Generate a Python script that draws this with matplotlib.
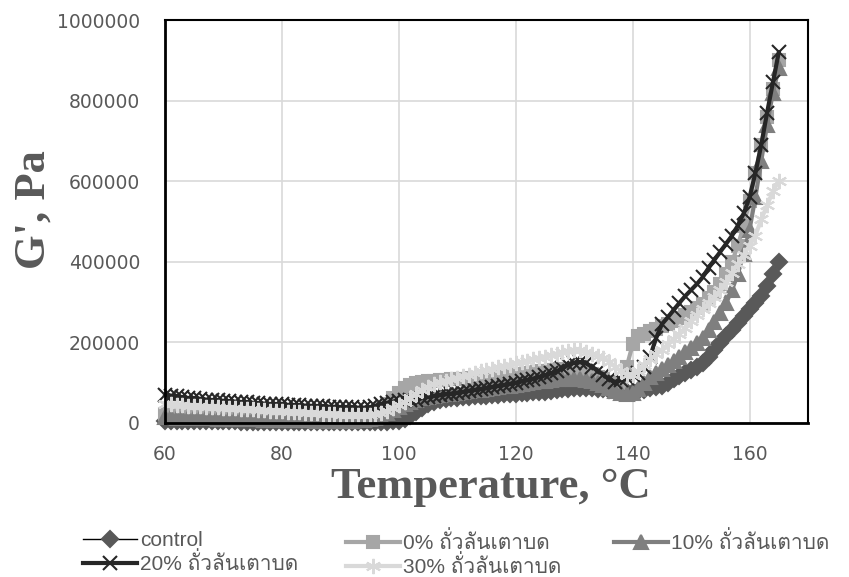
import matplotlib
matplotlib.use("Agg")
import matplotlib.pyplot as plt
from matplotlib import font_manager
from matplotlib.ticker import MultipleLocator, FuncFormatter

# find a font with Thai glyphs for the legend labels
thai_font = None
try:
    from fontTools.ttLib import TTFont
    for f in font_manager.fontManager.ttflist:
        try:
            tt = TTFont(f.fname, fontNumber=0, lazy=True)
            if 0x0E16 in tt.getBestCmap():
                thai_font = f.name
                break
        except Exception:
            pass
except Exception:
    pass

temperature = [
    60, 61, 62, 63, 64, 65, 66, 67, 68, 69,
    70, 71, 72, 73, 74, 75, 76, 77, 78, 79,
    80, 81, 82, 83, 84, 85, 86, 87, 88, 89,
    90, 91, 92, 93, 94, 95, 96, 97, 98, 99,
    100, 101, 102, 103, 104, 105, 106, 107, 108, 109,
    110, 111, 112, 113, 114, 115, 116, 117, 118, 119,
    120, 121, 122, 123, 124, 125, 126, 127, 128, 129,
    130, 131, 132, 133, 134, 135, 136, 137, 138, 139,
    140, 141, 142, 143, 144, 145, 146, 147, 148, 149,
    150, 151, 152, 153, 154, 155, 156, 157, 158, 159,
    160, 161, 162, 163, 164, 165,
]

g_control = [
    6000, 6000, 5500, 5500, 5000, 5000, 5000, 4500, 4500, 4500,
    4000, 4000, 4000, 3500, 3500, 3500, 3000, 3000, 3000, 3000,
    2500, 2500, 2500, 2500, 2000, 2000, 2000, 2000, 2000, 2000,
    2000, 2000, 2000, 2000, 2000, 2000, 2000, 2500, 3000, 4000,
    6000, 10000, 18000, 28000, 38000, 46000, 52000, 56000, 59000, 61000,
    63000, 64000, 65000, 66000, 67000, 68000, 69000, 70000, 71000, 72000,
    73000, 74000, 75000, 76000, 77000, 78000, 80000, 82000, 84000, 85000,
    86000, 86000, 86000, 86000, 85000, 84000, 82000, 80000, 78000, 78000,
    78000, 80000, 83000, 86000, 89000, 93000, 100000, 108000, 116000, 124000,
    132000, 140000, 150000, 165000, 182000, 198000, 215000, 232000, 248000, 265000,
    282000, 298000, 315000, 340000, 370000, 400000,
]

g_0 = [
    22000, 21000, 21000, 20000, 20000, 19000, 19000, 18000, 18000, 17000,
    17000, 16000, 16000, 15000, 15000, 14000, 14000, 13000, 13000, 12000,
    12000, 12000, 11000, 11000, 11000, 10000, 10000, 10000, 10000, 10000,
    10000, 10000, 11000, 12000, 14000, 18000, 25000, 35000, 48000, 62000,
    75000, 86000, 94000, 99000, 102000, 104000, 105000, 106000, 107000, 108000,
    109000, 110000, 111000, 112000, 113000, 114000, 115000, 116000, 117000, 118000,
    120000, 122000, 124000, 126000, 128000, 130000, 132000, 134000, 135000, 135000,
    134000, 132000, 128000, 122000, 115000, 108000, 102000, 98000, 100000, 140000,
    195000, 215000, 222000, 228000, 234000, 240000, 246000, 253000, 260000, 268000,
    276000, 285000, 296000, 310000, 325000, 345000, 370000, 400000, 440000, 490000,
    550000, 620000, 690000, 760000, 830000, 900000,
]

g_10 = [
    14000, 14000, 13500, 13000, 13000, 12500, 12000, 12000, 11500, 11000,
    11000, 10500, 10000, 10000, 9500, 9000, 9000, 8500, 8000, 8000,
    7500, 7500, 7000, 7000, 6500, 6500, 6000, 6000, 6000, 5500,
    5500, 5500, 6000, 6500, 7500, 9000, 12000, 17000, 24000, 32000,
    40000, 47000, 53000, 58000, 62000, 65000, 67000, 69000, 71000, 73000,
    75000, 77000, 79000, 81000, 83000, 85000, 87000, 89000, 91000, 93000,
    95000, 97000, 99000, 101000, 103000, 105000, 107000, 108000, 109000, 110000,
    110000, 109000, 107000, 104000, 100000, 95000, 88000, 80000, 74000, 72000,
    75000, 85000, 100000, 115000, 125000, 135000, 145000, 155000, 165000, 175000,
    185000, 198000, 212000, 230000, 250000, 272000, 298000, 330000, 370000, 420000,
    480000, 560000, 650000, 740000, 820000, 880000,
]

g_20 = [
    70000, 68000, 66000, 64000, 62000, 61000, 60000, 58000, 57000, 56000,
    55000, 54000, 53000, 52000, 51000, 50000, 49000, 48000, 47000, 46500,
    46000, 45000, 44500, 44000, 43000, 42500, 42000, 41000, 40500, 40000,
    39500, 39000, 38500, 38000, 38000, 39000, 42000, 46000, 50000, 53000,
    55000, 56000, 57000, 58000, 62000, 65000, 67000, 69000, 71000, 73000,
    75000, 77000, 80000, 82000, 84000, 86000, 89000, 92000, 94000, 97000,
    100000, 103000, 106000, 110000, 114000, 118000, 123000, 128000, 136000, 144000,
    150000, 151000, 148000, 140000, 130000, 119000, 108000, 102000, 106000, 112000,
    118000, 125000, 140000, 165000, 210000, 245000, 262000, 280000, 298000, 315000,
    330000, 345000, 362000, 385000, 405000, 425000, 445000, 465000, 490000, 520000,
    560000, 620000, 690000, 770000, 845000, 920000,
]

g_30 = [
    48000, 46000, 45000, 44000, 43000, 42000, 41000, 40000, 39000, 38500,
    38000, 37000, 36000, 35500, 35000, 34000, 33000, 32000, 31000, 30000,
    29000, 28000, 27500, 27000, 26000, 25000, 24000, 23500, 23000, 22000,
    21000, 20500, 20000, 20000, 20000, 21000, 23000, 26000, 30000, 36000,
    44000, 52000, 62000, 72000, 82000, 90000, 96000, 101000, 105000, 109000,
    112000, 116000, 120000, 124000, 128000, 131000, 135000, 138000, 141000, 145000,
    148000, 151000, 155000, 158000, 162000, 165000, 169000, 172000, 176000, 179000,
    181000, 180000, 177000, 172000, 167000, 162000, 152000, 140000, 128000, 120000,
    118000, 130000, 145000, 158000, 170000, 182000, 195000, 208000, 222000, 236000,
    252000, 268000, 283000, 298000, 313000, 330000, 350000, 372000, 395000, 418000,
    440000, 465000, 505000, 540000, 575000, 600000,
]

thai = "ถั่วลันเตาบด"
labels = ["control", "0% " + thai, "10% " + thai, "20% " + thai, "30% " + thai]

text_grey = "#595959"
plt.rcParams["font.family"] = ["DejaVu Sans"]

fig = plt.figure(figsize=(8.49, 5.77), dpi=100)
ax = fig.add_axes([0.1943, 0.2669, 0.7574, 0.6984])

# draw order: control, 0%, 10%, 20%, 30%
series = [
    (g_control, labels[0], "#000000", 1.0, "D", "#595959", 8),
    (g_0, labels[1], "#a6a6a6", 3.0, "s", "#a6a6a6", 9),
    (g_10, labels[2], "#7f7f7f", 3.0, "^", "#7f7f7f", 10),
    (g_20, labels[3], "#262626", 3.0, "x", "#262626", 10),
    (g_30, labels[4], "#d9d9d9", 3.0, (6, 2, 0), "#d9d9d9", 11),
]
handles = []
for vals, lab, lc, lw, mk, mc, ms in series:
    h, = ax.plot(temperature, vals, color=lc, lw=lw, marker=mk, ms=ms,
                 markerfacecolor=mc, markeredgecolor=mc, markeredgewidth=1.5,
                 label=lab, clip_on=False)
    handles.append(h)

ax.set_xlim(60, 170)
ax.set_ylim(0, 1000000)
ax.set_xticks([60, 80, 100, 120, 140, 160])
ax.yaxis.set_major_locator(MultipleLocator(200000))
ax.yaxis.set_major_formatter(FuncFormatter(lambda v, p: f"{int(v)}"))
ax.grid(True, color="#d9d9d9", lw=1.2)
ax.set_axisbelow(True)
for side in ["left", "bottom"]:
    ax.spines[side].set_linewidth(2.0)
for side in ["top", "right"]:
    ax.spines[side].set_linewidth(1.5)
ax.tick_params(length=0, labelsize=13.5, labelcolor=text_grey)
ax.tick_params(axis="y", pad=18)
ax.tick_params(axis="x", pad=16)

ax.set_xlabel("Temperature, °C", fontsize=32, fontweight="bold",
              family="Liberation Serif", color=text_grey)
ax.set_ylabel("G', Pa", fontsize=32, fontweight="bold",
              family="Liberation Serif", color=text_grey)
ax.xaxis.set_label_coords(0.507, -0.11)
ax.yaxis.set_label_coords(-0.174, 0.53)

leg_family = ["Liberation Sans"]
if thai_font:
    leg_family.append(thai_font)
leg_family.append("DejaVu Sans")

# one legend per column so the columns sit where the reference puts them
columns = [([0, 3], 83), ([1, 4], 346), ([2], 614)]
for idx, xpix in columns:
    leg = fig.legend([handles[i] for i in idx], [labels[i] for i in idx],
                     loc="upper left", bbox_to_anchor=(xpix / 849, 0.079),
                     frameon=False, handlelength=2.6, handletextpad=0.15,
                     labelspacing=0.1, borderpad=0, borderaxespad=0,
                     prop={"family": leg_family, "size": 15})
    for t in leg.get_texts():
        t.set_color(text_grey)

fig.savefig("out.png", dpi=100)
